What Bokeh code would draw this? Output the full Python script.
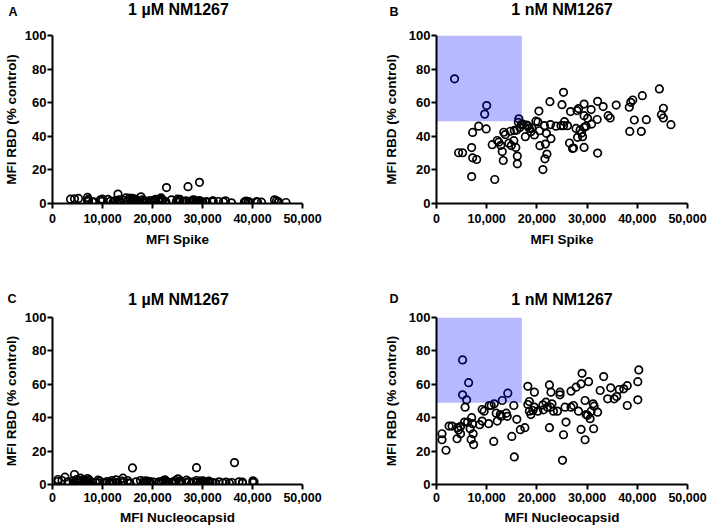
from bokeh.plotting import figure
from bokeh.models import Range1d, NumeralTickFormatter
from bokeh.core.properties import value
from bokeh.layouts import column, row
from bokeh.embed import file_html
from bokeh.resources import INLINE

# ---------------- data ----------------
spike_mfi = [3600, 4400, 5200, 7000, 7000, 7200, 7200, 8000, 8400, 9600, 9900, 10000, 11100, 11600,
             12100, 12400, 12800, 13100, 13300, 13400, 13700, 14400, 14700, 14900, 15400, 15500, 15800,
             16000, 16100, 16100, 16300, 16400, 16600, 16900, 17200, 17700, 18000, 18200, 18500, 18800,
             19000, 19500, 19800, 20200, 20400, 20500, 20600, 21200, 21500, 21600, 21700, 21900, 22000,
             22600, 22700, 22800, 23800, 24800, 25000, 25300, 25300, 25500, 26100, 26500, 26700, 27100,
             27300, 27800, 28000, 28100, 28300, 28600, 28900, 29100, 29400, 29400, 29400, 29400, 29800,
             30100, 30800, 30900, 32000, 32100, 32100, 33200, 34200, 34600, 35800, 38400, 38500, 38700,
             39100, 39400, 40800, 41000, 41800, 44400, 44800, 45200, 45200, 46700]
rbd_1nM_spike = [74.2, 30.2, 30.2, 16.0, 33.3, 42.3, 27.2, 26.2, 46.0, 53.2, 44.4, 58.3, 35.0, 14.3,
                 37.5, 36.5, 34.6, 30.9, 25.6, 42.4, 41.0, 35.9, 43.0, 34.5, 37.4, 43.5, 33.4,
                 43.7, 28.2, 23.6, 48.3, 50.4, 45.3, 47.0, 47.3, 39.8, 46.7, 46.0, 44.7, 42.7,
                 45.0, 40.8, 49.0, 48.5, 55.0, 43.3, 34.4, 20.2, 46.3, 26.6, 35.4, 41.8, 29.4,
                 60.6, 47.0, 38.6, 46.0, 46.3, 58.8, 66.2, 46.3, 48.7, 46.3, 36.0, 54.7, 32.8,
                 33.0, 44.7, 55.3, 39.4, 56.5, 43.7, 42.0, 39.8, 59.2, 52.3, 45.3, 33.4, 46.0,
                 50.7, 55.9, 47.3, 50.0, 60.8, 30.0, 57.7, 52.3, 50.9, 58.6, 57.3, 42.9, 60.2,
                 61.6, 49.7, 42.9, 64.2, 49.9, 68.2, 52.9, 56.7, 50.9, 46.9]
rbd_1uM_spike = [2.6, 2.8, 3.0, 1.6, 3.6, 2.4, 1.2, 1.0, 0.9, 2.2, 1.2, 2.6, 2.4, 1.4,
                 0.8, 1.6, 0.6, 5.6, 2.2, 1.0, 0.6, 1.8, 3.4, 1.2, 3.2, 2.2, 1.0,
                 3.0, 1.6, 0.6, 2.0, 1.2, 2.6, 0.8, 1.4, 4.0, 2.2, 1.0, 1.6, 0.6,
                 1.2, 1.8, 0.8, 1.6, 2.0, 1.0, 2.4, 1.4, 1.8, 2.6, 3.4, 1.0, 2.2,
                 1.2, 0.6, 9.5, 2.2, 1.4, 2.6, 1.8, 0.8, 2.4, 1.2, 0.8, 1.6, 10.0,
                 1.2, 0.8, 2.0, 1.4, 2.2, 0.6, 1.4, 1.0, 12.6, 1.8, 0.8, 1.4, 1.0,
                 0.8, 1.2, 0.6, 1.4, 1.0, 1.6, 1.2, 1.0, 1.6, 0.4, 1.0, 0.6, 1.4,
                 1.2, 0.8, 1.2, 0.8, 0.8, 2.2, 1.6, 1.0, 0.6, 0.6]

nucleocapsid_mfi = [1100, 1100, 1900, 2500, 3100, 4100, 4200, 4400, 4800, 4800, 5200, 5200, 5600, 5700,
                    6000, 6200, 6400, 6700, 6900, 7000, 7200, 7300, 7400, 8600, 9100, 9100, 9500,
                    10400, 10500, 10900, 11400, 11500, 11900, 12100, 12700, 12900, 13100, 13900, 14100,
                    14200, 15000, 15400, 15500, 16000, 16700, 17600, 18200, 18200, 18500, 18500, 18800,
                    19200, 19500, 19500, 20200, 21200, 21300, 21800, 22100, 22500, 22500, 22700, 22800,
                    23000, 23300, 24100, 24600, 24600, 25100, 25300, 25600, 25800, 26800, 26800, 27300,
                    27800, 28300, 28800, 28800, 29000, 29600, 29600, 29800, 30100, 30300, 30600, 30800,
                    31200, 31300, 31400, 32100, 32600, 33300, 34100, 34700, 35400, 35900, 36400, 37300,
                    38000, 38000, 40100, 40100, 40300]
rbd_1nM_nucleo = [30.4, 26.8, 20.5, 35.0, 35.0, 27.4, 34.0, 32.6, 34.8, 30.4, 74.6, 53.7, 37.4, 46.3,
                  50.7, 37.4, 61.0, 33.4, 27.0, 40.0, 36.4, 30.4, 23.9, 35.8, 44.9, 38.0, 43.9,
                  36.4, 47.3, 47.3, 25.8, 48.3, 42.7, 38.0, 41.9, 40.8, 50.3, 42.7, 40.8,
                  54.7, 28.8, 47.3, 16.5, 39.0, 32.8, 34.0, 47.9, 58.8, 49.7, 43.9, 41.9,
                  44.3, 55.3, 46.3, 43.9, 47.7, 44.7, 49.3, 46.3, 59.6, 34.0, 46.3, 55.3,
                  48.3, 43.9, 43.9, 55.3, 53.7, 14.5, 29.8, 46.3, 37.4, 55.9, 46.3, 47.3,
                  58.3, 43.9, 60.2, 33.0, 66.6, 50.3, 26.8, 41.9, 41.4, 61.6, 39.4, 43.9,
                  48.3, 33.4, 46.9, 43.3, 56.3, 64.6, 51.3, 57.9, 51.3, 52.7, 56.9, 57.3,
                  59.2, 47.3, 50.7, 61.6, 68.6]
rbd_1uM_nucleo = [3.0, 1.8, 2.4, 4.4, 1.6, 2.2, 1.0, 6.0, 3.0, 1.4, 2.6, 1.2, 3.8, 2.0,
                  0.8, 3.0, 1.6, 2.4, 1.0, 3.6, 1.8, 2.8, 0.8, 1.4, 2.6, 1.0, 2.0,
                  1.2, 0.6, 1.8, 0.8, 1.4, 2.4, 1.0, 2.8, 1.2, 0.6, 2.0, 3.8,
                  1.2, 2.4, 1.0, 0.6, 9.9, 1.6, 2.4, 1.0, 2.0, 1.4, 0.6, 2.2,
                  1.2, 1.8, 0.8, 1.4, 0.8, 1.6, 1.2, 2.2, 2.8, 1.0, 1.8, 0.6,
                  1.4, 1.0, 1.6, 2.4, 1.0, 3.4, 1.6, 2.2, 0.8, 2.6, 1.2, 1.8,
                  0.8, 1.6, 2.4, 10.1, 1.2, 2.0, 0.8, 1.4, 2.2, 1.0, 1.6, 0.8,
                  1.4, 2.0, 1.0, 1.2, 0.8, 1.6, 1.0, 1.4, 0.8, 1.2, 13.1, 1.6,
                  0.8, 1.4, 2.2, 1.2, 1.6]

box_x = [0, 17000]
box_y = [49, 100]
x_ticks = [0, 10000, 20000, 30000, 40000, 50000]
y_ticks = [0, 20, 40, 60, 80, 100]
panel_letters = ["A", "B", "C", "D"]
panel_titles = ["1 \u00b5M NM1267", "1 nM NM1267", "1 \u00b5M NM1267", "1 nM NM1267"]
x_labels = ["MFI Spike", "MFI Spike", "MFI Nucleocapsid", "MFI Nucleocapsid"]
y_label = "MFI RBD (% control)"

assert len(spike_mfi) == len(rbd_1nM_spike) == len(rbd_1uM_spike)
assert len(nucleocapsid_mfi) == len(rbd_1nM_nucleo) == len(rbd_1uM_nucleo)

FONT = "Liberation Sans"
PAGE_W = 708


def make_header(height, letters, titles, letter_x, title_x, letter_y, title_y):
    h = figure(width=PAGE_W, height=height, output_backend="svg", toolbar_location=None,
               x_range=Range1d(0, PAGE_W), y_range=Range1d(height, 0),
               x_axis_type=None, y_axis_type=None,
               min_border=0, min_border_left=0, min_border_right=0,
               min_border_top=0, min_border_bottom=0)
    h.outline_line_color = None
    h.grid.visible = False
    h.text(x=letter_x, y=[letter_y] * len(letters), text=letters,
           text_font=value(FONT), text_font_style="bold", text_font_size=value("12.5px"),
           text_color="black", text_align="left", text_baseline="middle")
    h.text(x=title_x, y=[title_y] * len(titles), text=titles,
           text_font=value(FONT), text_font_style="bold", text_font_size=value("16px"),
           text_color="black", text_align="center", text_baseline="middle")
    return h


def make_panel(idx, xs, ys, show_box, width, height, bl, br, bt, bb,
               tick_standoff, label_standoff, ylabel_standoff):
    p = figure(width=width, height=height, output_backend="svg", toolbar_location=None,
               title=None, x_range=Range1d(0, 50000), y_range=Range1d(0, 100),
               min_border_left=bl, min_border_right=br, min_border_top=bt, min_border_bottom=bb)
    p.outline_line_color = None
    p.grid.visible = False

    for ax in (p.xaxis[0], p.yaxis[0]):
        ax.axis_line_width = 2
        ax.axis_line_color = "black"
        ax.major_tick_line_width = 2
        ax.major_tick_line_color = "black"
        ax.major_tick_out = 5
        ax.major_tick_in = 0
        ax.minor_tick_out = 0
        ax.minor_tick_in = 0
        ax.major_label_text_font = FONT
        ax.major_label_text_font_style = "bold"
        ax.major_label_text_color = "black"
        ax.axis_label_text_font = FONT
        ax.axis_label_text_font_style = "bold"
        ax.axis_label_text_font_size = "13.5px"
        ax.axis_label_text_color = "black"

    p.xaxis.ticker = x_ticks
    p.xaxis.formatter = NumeralTickFormatter(format="0,0")
    p.xaxis.major_label_text_font_size = "12.5px"
    p.xaxis.major_label_standoff = tick_standoff
    p.xaxis.axis_label = x_labels[idx]
    p.xaxis.axis_label_standoff = label_standoff

    p.yaxis.ticker = y_ticks
    p.yaxis.major_label_text_font_size = "13px"
    p.yaxis.major_label_standoff = 1
    p.yaxis.axis_label = y_label
    p.yaxis.axis_label_standoff = ylabel_standoff

    p.scatter(xs, ys, size=7.5, marker="circle", fill_color=None,
              line_color="black", line_width=1.7)

    if show_box:
        p.quad(left=[box_x[0]], right=[box_x[1]], bottom=[box_y[0]], top=[box_y[1]],
               fill_color="#0000ff", fill_alpha=0.28, line_color=None)
    return p


header1 = make_header(27, panel_letters[:2], panel_titles[:2], [8, 389], [178, 561.5], 11, 9)
pa = make_panel(0, spike_mfi, rbd_1uM_spike, False, 354, 248, 51, 52, 8, 72, 5, 6, 3)
pb = make_panel(1, spike_mfi, rbd_1nM_spike, True, 354, 248, 82, 21, 8, 72, 5, 6, 7)
header2 = make_header(34, panel_letters[2:], panel_titles[2:], [7, 389], [178, 561.5], 23, 23.5)
pc = make_panel(2, nucleocapsid_mfi, rbd_1uM_nucleo, False, 354, 221, 51, 52, 8, 46, 3, 5, 3)
pd = make_panel(3, nucleocapsid_mfi, rbd_1nM_nucleo, True, 354, 221, 82, 21, 8, 46, 3, 5, 7)

layout = column(header1, row(pa, pb), header2, row(pc, pd))

open("out.html", "w").write(file_html(layout, INLINE))
